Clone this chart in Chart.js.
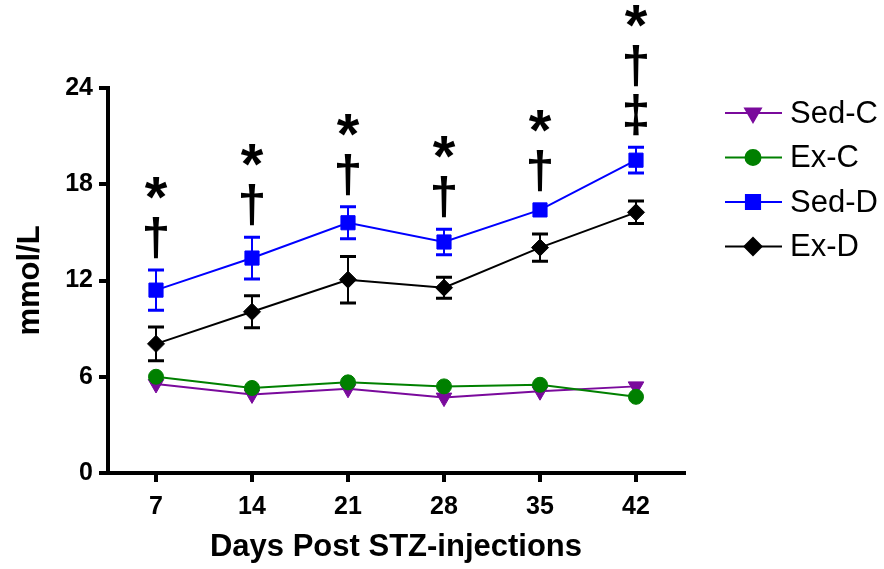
<!DOCTYPE html>
<html>
<head>
<meta charset="utf-8">
<script src="https://cdn.jsdelivr.net/npm/chart.js@4.4.1/dist/chart.umd.min.js"></script>
<style>
  html, body { margin: 0; padding: 0; background: #fff; }
  #wrap { width: 884px; height: 569px; }
</style>
</head>
<body>
<div id="wrap"><canvas id="glucoseChart" width="884" height="569"></canvas></div>
<script>
// values (mmol/L)
const days = [7, 14, 21, 28, 35, 42];
const sedC = [5.55, 4.9, 5.25, 4.7, 5.1, 5.4];
const exC = [6.0, 5.3, 5.65, 5.4, 5.5, 4.75];
const sedD = [11.4, 13.4, 15.6, 14.4, 16.4, 19.5];
const sedDErr = [1.25, 1.3, 1.0, 0.8, 0, 0.8];
const exD = [8.05, 10.05, 12.05, 11.55, 14.05, 16.25];
const exDErr = [1.05, 1.0, 1.45, 0.65, 0.85, 0.7];
const zeroErr = [0, 0, 0, 0, 0, 0];
const yTicks = [0, 6, 12, 18, 24];
// significance marks above each time point, top to bottom
const sigMarks = [['*', '†'], ['*', '†'], ['*', '†'], ['*', '†'], ['*', '†'], ['*', '†', '‡']];

const FONT = "'Liberation Sans', Arial, sans-serif";

function makeSeries(label, values, errs, color, pointStyle, radius, rotation, order) {
  return {
    label,
    data: values.map((v, i) => ({ x: days[i], y: v })),
    errs,
    borderColor: color,
    backgroundColor: color,
    borderWidth: 2,
    pointStyle,
    pointRadius: radius,
    pointRotation: rotation,
    pointBorderWidth: 1,
    pointBackgroundColor: color,
    pointBorderColor: color,
    order,
    tension: 0
  };
}

const errorBars = {
  id: 'errorBars',
  beforeDatasetsDraw(chart) {
    const ctx = chart.ctx;
    const y = chart.scales.y;
    chart.data.datasets.forEach((ds, di) => {
      const meta = chart.getDatasetMeta(di);
      ctx.save();
      ctx.strokeStyle = ds.borderColor;
      ds.data.forEach((p, i) => {
        const e = ds.errs[i];
        if (!e) return;
        const px = meta.data[i].x;
        const top = y.getPixelForValue(p.y + e);
        const bot = y.getPixelForValue(p.y - e);
        ctx.lineWidth = 2;
        ctx.beginPath();
        ctx.moveTo(px, top);
        ctx.lineTo(px, bot);
        ctx.stroke();
        ctx.lineWidth = 3;
        ctx.beginPath();
        ctx.moveTo(px - 8, top);
        ctx.lineTo(px + 8, top);
        ctx.moveTo(px - 8, bot);
        ctx.lineTo(px + 8, bot);
        ctx.stroke();
      });
      ctx.restore();
    });
  }
};

const sigLabels = {
  id: 'sigLabels',
  afterDraw(chart) {
    const ctx = chart.ctx;
    const x = chart.scales.x;
    const y = chart.scales.y;
    ctx.save();
    ctx.fillStyle = '#000';
    ctx.textAlign = 'center';
    ctx.textBaseline = 'alphabetic';
    sigMarks.forEach((marks, i) => {
      const px = x.getPixelForValue(days[i]);
      const top = Math.min(y.getPixelForValue(sedD[i] + sedDErr[i]), y.getPixelForValue(sedD[i]) - 7);
      let cy = top - 32;
      for (let k = marks.length - 1; k >= 0; k--) {
        const s = marks[k];
        ctx.font = (s === '*' ? 'bold 58px ' : 'bold 52px ') + FONT;
        const m = ctx.measureText(s);
        const base = cy + (m.actualBoundingBoxAscent - m.actualBoundingBoxDescent) / 2;
        ctx.fillText(s, px, base);
        cy -= (k > 0 && marks[k - 1] === '*') ? 50 : 49;
      }
    });
    ctx.restore();
  }
};

const sideLegend = {
  id: 'sideLegend',
  afterDraw(chart) {
    const ctx = chart.ctx;
    ctx.save();
    chart.data.datasets.forEach((ds, i) => {
      const ly = 113 + i * 44.5;
      ctx.strokeStyle = ds.borderColor;
      ctx.fillStyle = ds.borderColor;
      ctx.lineWidth = 2;
      ctx.beginPath();
      ctx.moveTo(725, ly);
      ctx.lineTo(782, ly);
      ctx.stroke();
      Chart.helpers.drawPoint(ctx, {
        pointStyle: ds.pointStyle,
        radius: ds.pointRadius,
        rotation: ds.pointRotation,
        borderWidth: 1
      }, 753, ly);
      ctx.fillStyle = '#000';
      ctx.font = '31px ' + FONT;
      ctx.textAlign = 'left';
      ctx.textBaseline = 'middle';
      ctx.fillText(ds.label, 790, ly + 1);
    });
    ctx.restore();
  }
};

new Chart(document.getElementById('glucoseChart'), {
  type: 'line',
  data: {
    datasets: [
      makeSeries('Sed-C', sedC, zeroErr, '#7a0a9c', 'triangle', 9, 180, 4),
      makeSeries('Ex-C', exC, zeroErr, '#008000', 'circle', 7.5, 0, 3),
      makeSeries('Sed-D', sedD, sedDErr, '#0000ff', 'rect', 10, 0, 2),
      makeSeries('Ex-D', exD, exDErr, '#000000', 'rectRot', 8.5, 0, 1)
    ]
  },
  options: {
    responsive: false,
    animation: false,
    layout: { padding: { top: 88, right: 200, left: 0, bottom: 0 } },
    plugins: { legend: { display: false }, tooltip: { enabled: false } },
    scales: {
      x: {
        type: 'linear',
        min: 3.5,
        max: 45.5,
        afterBuildTicks: s => { s.ticks = days.map(v => ({ value: v })); },
        afterFit: s => { s.height = 96; },
        ticks: { color: '#000', font: { family: FONT, size: 25, weight: 'bold' }, padding: 10, maxRotation: 0, autoSkip: false },
        grid: { drawOnChartArea: false, color: '#000', lineWidth: 4, tickWidth: 4, tickLength: 9 },
        border: { color: '#000', width: 4 },
        title: { display: true, text: 'Days Post STZ-injections', color: '#000', font: { family: FONT, size: 31, weight: 'bold' }, padding: { top: 0, bottom: 3 } }
      },
      y: {
        min: 0,
        max: 24,
        afterBuildTicks: s => { s.ticks = yTicks.map(v => ({ value: v })); },
        afterFit: s => { s.width = 108; },
        ticks: { color: '#000', font: { family: FONT, size: 25, weight: 'bold' }, padding: 6 },
        grid: { drawOnChartArea: false, color: '#000', lineWidth: 4, tickWidth: 4, tickLength: 9 },
        border: { color: '#000', width: 4 },
        title: { display: true, text: 'mmol/L', color: '#000', font: { family: FONT, size: 31, weight: 'bold' }, padding: { top: 12, bottom: 0 } }
      }
    }
  },
  plugins: [errorBars, sigLabels, sideLegend]
});
</script>
</body>
</html>
